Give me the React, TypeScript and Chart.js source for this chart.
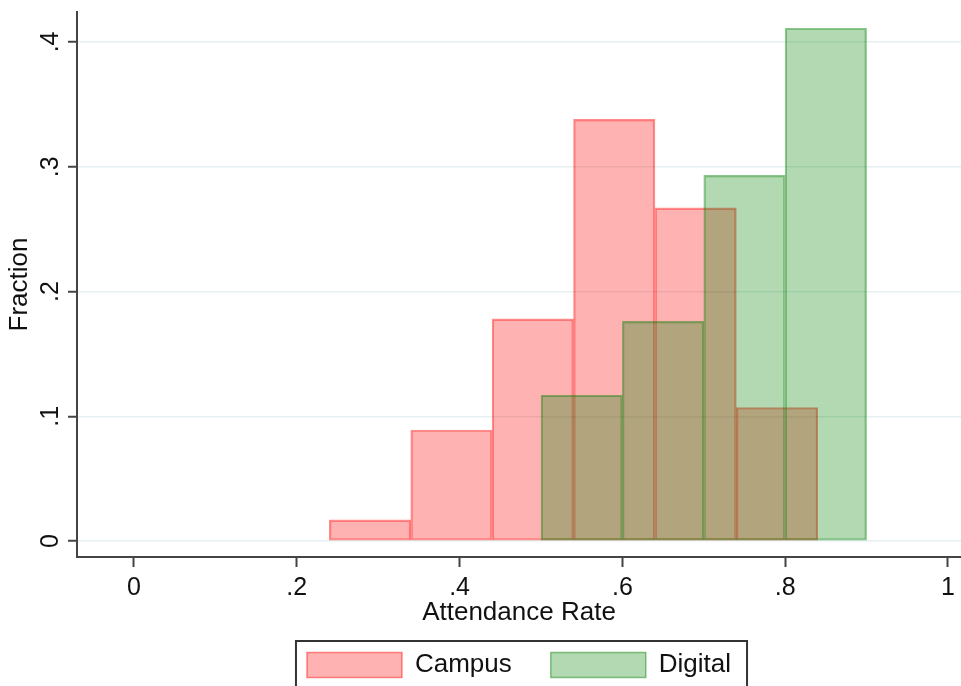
import React, { useEffect, useRef } from 'react';
import { Chart, registerables } from 'chart.js';

Chart.register(...registerables);

// ---- data ----
const binWidth = 0.1;
const campusBinStarts = [0.24, 0.34, 0.44, 0.54, 0.64, 0.74];
const campusFractions = [0.017, 0.089, 0.178, 0.338, 0.267, 0.107];
const digitalBinStarts = [0.5, 0.6, 0.7, 0.8];
const digitalFractions = [0.117, 0.176, 0.293, 0.411];
const seriesLabels = ['Campus', 'Digital'];
const xTickValues = [0, 0.2, 0.4, 0.6, 0.8, 1];
const xTickLabels = ['0', '.2', '.4', '.6', '.8', '1'];
const yTickValues = [0, 0.1, 0.2, 0.3, 0.4];
const yTickLabels = ['0', '.1', '.2', '.3', '.4'];
const xTitle = 'Attendance Rate';
const yTitle = 'Fraction';

// ---- axis ranges / styles ----
const X_MIN = -0.07;
const X_MAX = 1.016;
const Y_MIN = -0.0128;
const Y_MAX = 0.424;
const FONT = '"Liberation Sans", Arial, sans-serif';
const TEXT = '#111111';
const AXIS = '#444444';

const labelFor = (values: number[], labels: string[]) => (v: any) => {
  const idx = values.findIndex((t) => Math.abs(t - Number(v)) < 1e-9);
  return idx >= 0 ? labels[idx] : '';
};

const yTickText = {
  id: 'yTickText',
  afterDraw(chart: any) {
    const s = chart.scales.y;
    const ctx = chart.ctx;
    const fmt = labelFor(yTickValues, yTickLabels);
    ctx.save();
    ctx.font = `25px ${FONT}`;
    ctx.fillStyle = TEXT;
    ctx.textAlign = 'center';
    ctx.textBaseline = 'middle';
    s.ticks.forEach((t: any) => {
      const y = s.getPixelForValue(t.value);
      ctx.save();
      ctx.translate(51, y);
      ctx.rotate(-Math.PI / 2);
      ctx.fillText(fmt(t.value), 0, 0);
      ctx.restore();
    });
    ctx.restore();
  },
};

const legendFrame = {
  id: 'legendFrame',
  afterDraw(chart: any) {
    const lg = chart.legend;
    if (!lg || !lg.legendHitBoxes || !lg.legendHitBoxes.length) return;
    const hb = lg.legendHitBoxes;
    const first = hb[0];
    const last = hb[hb.length - 1];
    const left = first.left - 11;
    const right = last.left + last.width + 16;
    const top = first.top - 11;
    const ctx = chart.ctx;
    ctx.save();
    ctx.strokeStyle = '#333333';
    ctx.lineWidth = 2;
    ctx.strokeRect(left, top, right - left, chart.height - top + 20);
    ctx.restore();
  },
};

export default function App() {
  const ref = useRef<HTMLCanvasElement>(null);

  useEffect(() => {
    document.body.style.margin = '0';
    if (!ref.current) return;

    const fixTicks = (values: number[]) => (s: any) => {
      s.ticks = values.map((v) => ({ value: v }));
    };

    const chart = new Chart(ref.current, {
      type: 'bar',
      data: {
        datasets: [
          {
            label: seriesLabels[0],
            data: campusBinStarts.map((s, i) => ({ x: s + binWidth / 2, y: campusFractions[i] })),
            xAxisID: 'x',
            backgroundColor: 'rgba(255,0,0,0.3)',
            borderColor: 'rgba(255,0,0,0.45)',
            borderWidth: 1.5,
            borderSkipped: false,
            barPercentage: 1,
            categoryPercentage: 1,
            grouped: false,
            order: 1,
          } as any,
          {
            label: seriesLabels[1],
            data: digitalBinStarts.map((s, i) => ({ x: s + binWidth / 2, y: digitalFractions[i] })),
            xAxisID: 'x2',
            backgroundColor: 'rgba(0,128,0,0.3)',
            borderColor: 'rgba(0,128,0,0.45)',
            borderWidth: 1.5,
            borderSkipped: false,
            barPercentage: 1,
            categoryPercentage: 1,
            grouped: false,
            order: 0,
          } as any,
        ],
      },
      options: {
        animation: false,
        responsive: false,
        events: [],
        layout: { padding: { top: 12, left: 0, right: 0, bottom: 0 } },
        scales: {
          x: {
            type: 'linear',
            min: X_MIN,
            max: X_MAX,
            offset: false,
            afterBuildTicks: fixTicks(xTickValues),
            afterFit: (s: any) => {
              s.height = 56;
            },
            ticks: {
              callback: labelFor(xTickValues, xTickLabels),
              font: { family: FONT, size: 25 },
              color: TEXT,
              padding: 6,
              maxRotation: 0,
              minRotation: 0,
              autoSkip: false,
            },
            grid: {
              offset: false,
              drawOnChartArea: false,
              drawTicks: true,
              tickLength: 10,
              tickColor: AXIS,
              tickWidth: 2,
            },
            border: { display: true, color: AXIS, width: 2 },
            title: {
              display: true,
              text: xTitle,
              font: { family: FONT, size: 26 },
              color: TEXT,
              padding: { top: 0, bottom: -15 },
            },
          } as any,
          x2: {
            type: 'linear',
            display: false,
            min: X_MIN,
            max: X_MAX,
            offset: false,
            afterBuildTicks: fixTicks(xTickValues),
            grid: { offset: false },
          } as any,
          y: {
            type: 'linear',
            min: Y_MIN,
            max: Y_MAX,
            afterBuildTicks: fixTicks(yTickValues),
            afterFit: (s: any) => {
              s.width = 77;
            },
            ticks: {
              display: false,
              callback: labelFor(yTickValues, yTickLabels),
            },
            grid: {
              color: '#E6EFF1',
              lineWidth: 1.5,
              drawTicks: true,
              tickLength: 9,
              tickColor: AXIS,
              tickWidth: 2,
            },
            border: { display: true, color: AXIS, width: 2 },
            title: {
              display: true,
              text: yTitle,
              font: { family: FONT, size: 26 },
              color: TEXT,
              padding: { top: 4, bottom: 0 },
            },
          } as any,
        },
        plugins: {
          tooltip: { enabled: false },
          legend: {
            position: 'bottom',
            fullSize: false,
            maxHeight: 73,
            labels: {
              boxWidth: 95,
              boxHeight: 25,
              padding: 39,
              font: { family: FONT, size: 26 },
              color: TEXT,
              sort: (a: any, b: any) => a.datasetIndex - b.datasetIndex,
            },
          } as any,
        },
      },
      plugins: [yTickText, legendFrame],
    });

    return () => chart.destroy();
  }, []);

  return (
    <div style={{ width: 961, height: 686, background: '#ffffff' }}>
      <canvas ref={ref} width={961} height={686} style={{ display: 'block', width: 961, height: 686 }} />
    </div>
  );
}
